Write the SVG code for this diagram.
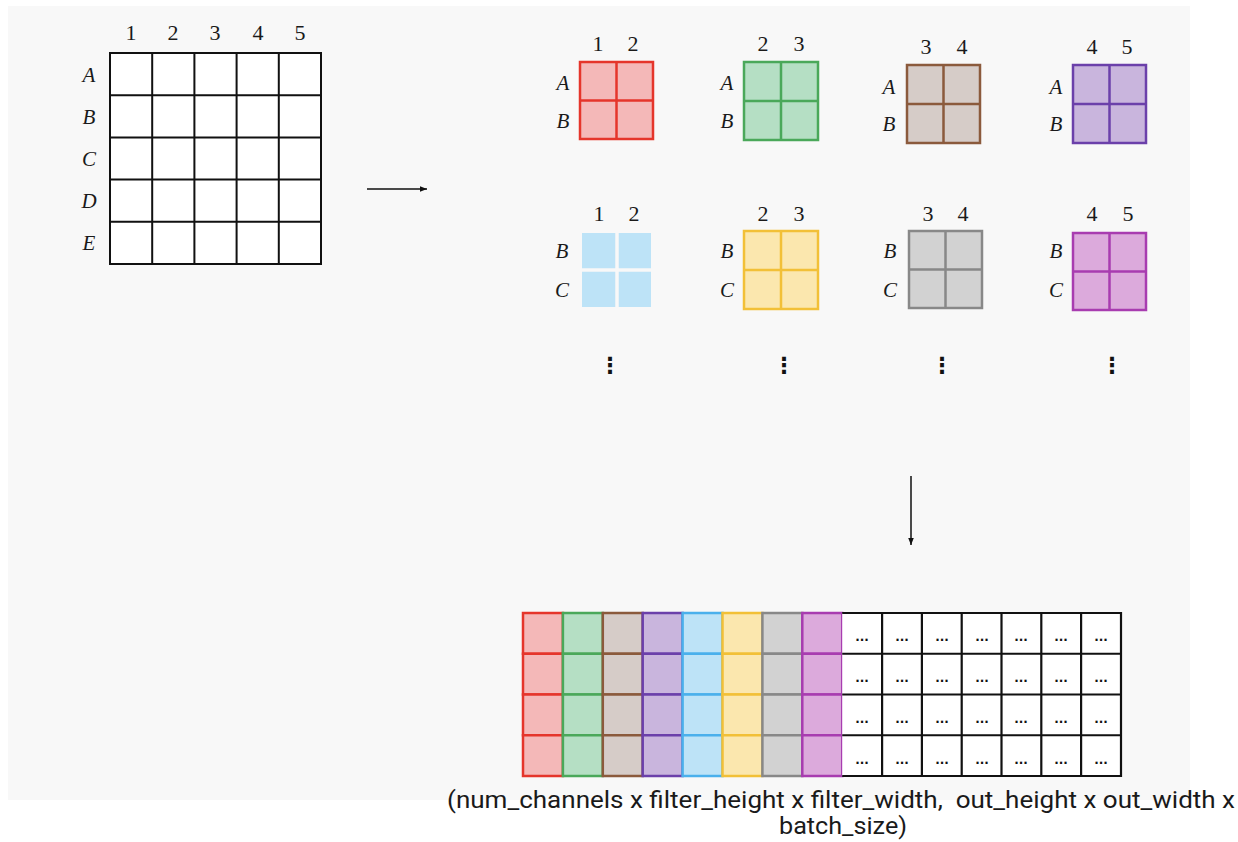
<svg xmlns="http://www.w3.org/2000/svg" width="1238" height="842" viewBox="0 0 1238 842">
<defs>
<style>
.num{font-family:"Liberation Serif","DejaVu Serif",serif;font-size:22px;fill:#1a1a1a;text-anchor:middle}
.lab{font-family:"Liberation Serif","DejaVu Serif",serif;font-style:italic;font-size:21px;fill:#1a1a1a;text-anchor:middle}
.grid{fill:#ffffff;stroke:#111;stroke-width:2}
.vd{font-family:"DejaVu Sans",sans-serif;font-weight:bold;font-size:22px;fill:#111;text-anchor:middle}
.el{font-family:"DejaVu Sans",sans-serif;font-weight:bold;font-size:12px;fill:#111;text-anchor:middle}
.cap{font-family:Roboto,"Liberation Sans",sans-serif;font-size:24px;fill:#1a1a1a}
.red{fill:#f4b8b8;stroke:#e5352b;stroke-width:2.5}
.green{fill:#b5dfc4;stroke:#4aa85a;stroke-width:2.5}
.brown{fill:#d6ccc8;stroke:#8b5a3c;stroke-width:2.5}
.purple{fill:#c9b5dd;stroke:#6b40aa;stroke-width:2.5}
.blue{fill:#bde3f7;stroke:#4ab0ec;stroke-width:2.5}
.yellow{fill:#fbe7ae;stroke:#f2c037;stroke-width:2.5}
.gray{fill:#d2d2d2;stroke:#888;stroke-width:2.5}
.mag{fill:#dcaadc;stroke:#a83cb0;stroke-width:2.5}
</style>
<marker id="ah" viewBox="0 0 10 10" refX="10" refY="5" markerWidth="7" markerHeight="7" orient="auto" markerUnits="userSpaceOnUse">
<path d="M0,1 L10,5 L0,9 z" fill="#111"/>
</marker>
</defs>
<rect x="0" y="0" width="1238" height="842" fill="#ffffff"/>
<rect x="8" y="6" width="1182" height="794" fill="#f8f8f8"/>

<g id="input-grid">
<text class="num" x="131" y="40">1</text>
<text class="num" x="173" y="40">2</text>
<text class="num" x="215" y="40">3</text>
<text class="num" x="258" y="40">4</text>
<text class="num" x="300" y="40">5</text>
<text class="lab" x="89" y="82">A</text>
<text class="lab" x="89" y="124">B</text>
<text class="lab" x="89" y="166">C</text>
<text class="lab" x="89" y="208">D</text>
<text class="lab" x="89" y="250">E</text>
<rect class="grid" x="110" y="53" width="211" height="211"/>
<path d="M152.2,53V264M194.4,53V264M236.6,53V264M278.8,53V264M110,95.2H321M110,137.4H321M110,179.6H321M110,221.8H321" stroke="#111" stroke-width="2" fill="none"/>
</g>

<g id="patch-AB-12">
<text class="num" x="598" y="51">1</text><text class="num" x="633" y="51">2</text>
<text class="lab" x="563" y="90">A</text><text class="lab" x="563" y="128">B</text>
<rect class="red" x="580" y="62" width="73" height="77"/>
<path d="M616.5,62V139M580,100.5H653" class="red" fill="none"/>
</g>
<g id="patch-AB-23">
<text class="num" x="763" y="51">2</text><text class="num" x="799" y="51">3</text>
<text class="lab" x="727" y="90">A</text><text class="lab" x="727" y="128">B</text>
<rect class="green" x="744" y="62" width="74" height="78"/>
<path d="M781,62V140M744,101H818" class="green" fill="none"/>
</g>
<g id="patch-AB-34">
<text class="num" x="926" y="54">3</text><text class="num" x="962" y="54">4</text>
<text class="lab" x="889" y="94">A</text><text class="lab" x="889" y="131">B</text>
<rect class="brown" x="907" y="65" width="73" height="78"/>
<path d="M943.5,65V143M907,104H980" class="brown" fill="none"/>
</g>
<g id="patch-AB-45">
<text class="num" x="1092" y="54">4</text><text class="num" x="1127" y="54">5</text>
<text class="lab" x="1056" y="94">A</text><text class="lab" x="1056" y="131">B</text>
<rect class="purple" x="1073" y="65" width="73" height="78"/>
<path d="M1109.5,65V143M1073,104H1146" class="purple" fill="none"/>
</g>

<g id="patch-BC-12">
<text class="num" x="599" y="221">1</text><text class="num" x="634" y="221">2</text>
<text class="lab" x="562" y="258">B</text><text class="lab" x="562" y="297">C</text>
<rect x="582" y="233" width="69" height="74" fill="#bde3f7"/>
<path d="M617,233V307M582,270H651" stroke="#f8f8f8" stroke-width="3.5" fill="none"/>
</g>
<g id="patch-BC-23">
<text class="num" x="763" y="221">2</text><text class="num" x="799" y="221">3</text>
<text class="lab" x="727" y="258">B</text><text class="lab" x="727" y="297">C</text>
<rect class="yellow" x="744" y="231" width="74" height="78"/>
<path d="M781,231V309M744,270H818" class="yellow" fill="none"/>
</g>
<g id="patch-BC-34">
<text class="num" x="928" y="221">3</text><text class="num" x="963" y="221">4</text>
<text class="lab" x="890" y="258">B</text><text class="lab" x="890" y="297">C</text>
<rect class="gray" x="909" y="231" width="73" height="77"/>
<path d="M945.5,231V308M909,269.5H982" class="gray" fill="none"/>
</g>
<g id="patch-BC-45">
<text class="num" x="1092" y="221">4</text><text class="num" x="1128" y="221">5</text>
<text class="lab" x="1056" y="258">B</text><text class="lab" x="1056" y="297">C</text>
<rect class="mag" x="1073" y="233" width="73" height="77"/>
<path d="M1109.5,233V310M1073,271.5H1146" class="mag" fill="none"/>
</g>

<g id="ellipses">
<text class="vd" x="610" y="373">⋮</text>
<text class="vd" x="784" y="373">⋮</text>
<text class="vd" x="942" y="373">⋮</text>
<text class="vd" x="1112" y="373">⋮</text>
</g>

<g id="connectors">
<line x1="367" y1="189" x2="427" y2="189" stroke="#111" stroke-width="1.5" marker-end="url(#ah)"/>
<line x1="911" y1="476" x2="911" y2="545" stroke="#111" stroke-width="1.5" marker-end="url(#ah)"/>
</g>

<g id="im2col-matrix">
<g class="red">
<rect x="523" y="613" width="39.9" height="40.75"/><rect x="523" y="653.75" width="39.9" height="40.75"/><rect x="523" y="694.5" width="39.9" height="40.75"/><rect x="523" y="735.25" width="39.9" height="40.75"/>
</g>
<g class="green">
<rect x="562.9" y="613" width="39.9" height="40.75"/><rect x="562.9" y="653.75" width="39.9" height="40.75"/><rect x="562.9" y="694.5" width="39.9" height="40.75"/><rect x="562.9" y="735.25" width="39.9" height="40.75"/>
</g>
<g class="brown">
<rect x="602.8" y="613" width="39.9" height="40.75"/><rect x="602.8" y="653.75" width="39.9" height="40.75"/><rect x="602.8" y="694.5" width="39.9" height="40.75"/><rect x="602.8" y="735.25" width="39.9" height="40.75"/>
</g>
<g class="purple">
<rect x="642.7" y="613" width="39.9" height="40.75"/><rect x="642.7" y="653.75" width="39.9" height="40.75"/><rect x="642.7" y="694.5" width="39.9" height="40.75"/><rect x="642.7" y="735.25" width="39.9" height="40.75"/>
</g>
<g class="blue">
<rect x="682.6" y="613" width="39.9" height="40.75"/><rect x="682.6" y="653.75" width="39.9" height="40.75"/><rect x="682.6" y="694.5" width="39.9" height="40.75"/><rect x="682.6" y="735.25" width="39.9" height="40.75"/>
</g>
<g class="yellow">
<rect x="722.5" y="613" width="39.9" height="40.75"/><rect x="722.5" y="653.75" width="39.9" height="40.75"/><rect x="722.5" y="694.5" width="39.9" height="40.75"/><rect x="722.5" y="735.25" width="39.9" height="40.75"/>
</g>
<g class="gray">
<rect x="762.4" y="613" width="39.9" height="40.75"/><rect x="762.4" y="653.75" width="39.9" height="40.75"/><rect x="762.4" y="694.5" width="39.9" height="40.75"/><rect x="762.4" y="735.25" width="39.9" height="40.75"/>
</g>
<g class="mag">
<rect x="802.3" y="613" width="39.9" height="40.75"/><rect x="802.3" y="653.75" width="39.9" height="40.75"/><rect x="802.3" y="694.5" width="39.9" height="40.75"/><rect x="802.3" y="735.25" width="39.9" height="40.75"/>
</g>
<rect x="842.2" y="613" width="278.8" height="163" fill="#fff"/>
<path d="M842.2,613H1121V776H842.2M882.1,613V776M921.9,613V776M961.7,613V776M1001.5,613V776M1041.3,613V776M1081.1,613V776M842.2,653.75H1121M842.2,694.5H1121M842.2,735.25H1121" stroke="#111" stroke-width="2.2" fill="none"/>
<g class="el">
<text x="862" y="641">...</text><text x="902" y="641">...</text><text x="942" y="641">...</text><text x="982" y="641">...</text><text x="1021" y="641">...</text><text x="1061" y="641">...</text><text x="1101" y="641">...</text>
<text x="862" y="682">...</text><text x="902" y="682">...</text><text x="942" y="682">...</text><text x="982" y="682">...</text><text x="1021" y="682">...</text><text x="1061" y="682">...</text><text x="1101" y="682">...</text>
<text x="862" y="723">...</text><text x="902" y="723">...</text><text x="942" y="723">...</text><text x="982" y="723">...</text><text x="1021" y="723">...</text><text x="1061" y="723">...</text><text x="1101" y="723">...</text>
<text x="862" y="764">...</text><text x="902" y="764">...</text><text x="942" y="764">...</text><text x="982" y="764">...</text><text x="1021" y="764">...</text><text x="1061" y="764">...</text><text x="1101" y="764">...</text>
</g>
</g>

<g id="caption">
<text class="cap" x="447" y="808" xml:space="preserve" textLength="788" lengthAdjust="spacingAndGlyphs">(num_channels x filter_height x filter_width,  out_height x out_width x</text>
<text class="cap" x="843" y="834" text-anchor="middle" textLength="128" lengthAdjust="spacingAndGlyphs">batch_size)</text>
</g>
</svg>
